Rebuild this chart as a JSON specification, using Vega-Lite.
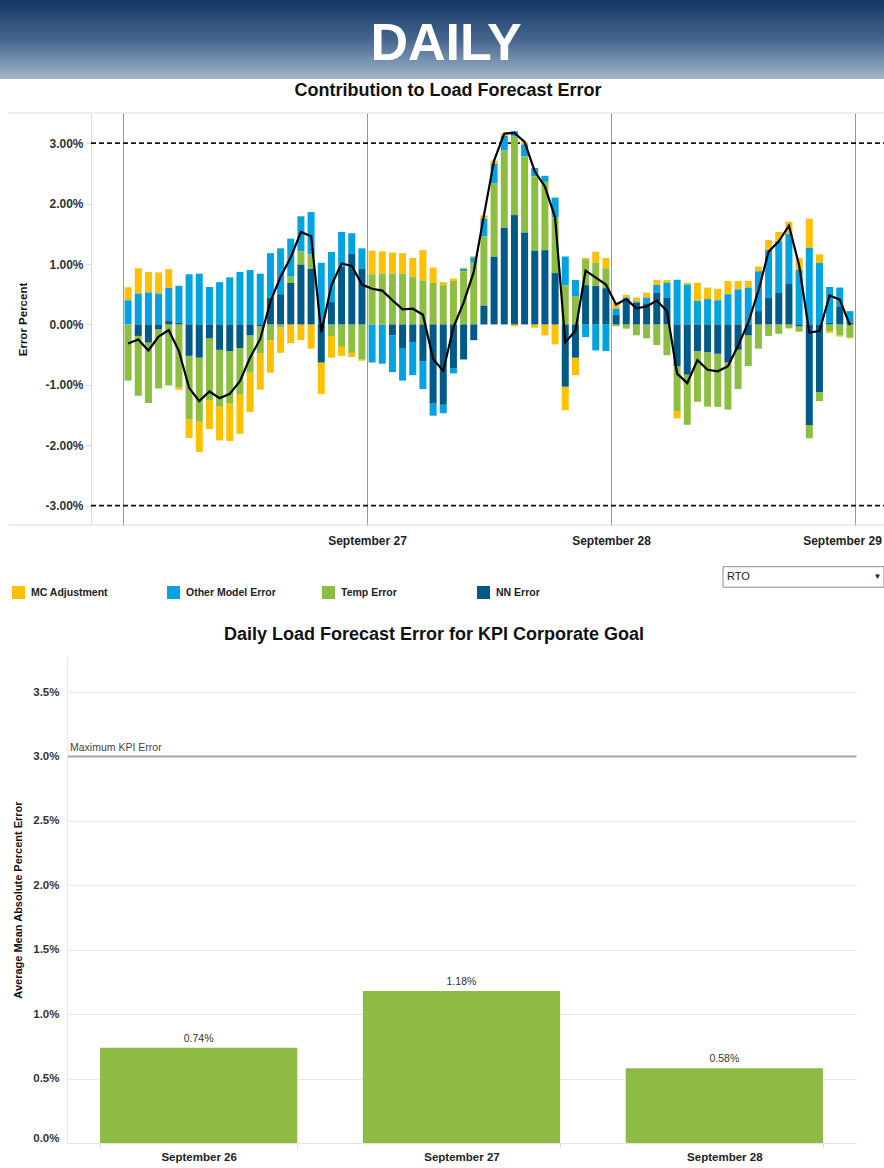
{
  "$schema": "https://vega.github.io/schema/vega-lite/v6.json",
  "background": "white",
  "padding": 0,
  "autosize": {"type": "pad"},
  "spacing": 2,
  "config": {
    "font": "Liberation Sans",
    "view": {"stroke": null},
    "locale": {"number": {"decimal": ".", "thousands": ",", "grouping": [3], "currency": ["$", ""], "minus": "-"}}
  },
  "datasets": {
    "parts": [
      {"key": "nn", "name": "NN Error", "rank": 1},
      {"key": "temp", "name": "Temp Error", "rank": 2},
      {"key": "other", "name": "Other Model Error", "rank": 3},
      {"key": "mc", "name": "MC Adjustment", "rank": 4}
    ],
    "hours": [
      {"t":0.5,"mc":0.00215,"other":0.0040,"temp":-0.0093,"nn":0},
      {"t":1.5,"mc":0.0042,"other":0.0051,"temp":-0.0099,"nn":-0.0019},
      {"t":2.5,"mc":0.0034,"other":0.0053,"temp":-0.0100,"nn":-0.0030},
      {"t":3.5,"mc":0.0035,"other":0.0051,"temp":-0.0098,"nn":-0.0008},
      {"t":4.5,"mc":0.0031,"other":0.0055,"temp":-0.0101,"nn":0.00055},
      {"t":5.5,"mc":-0.0004,"other":0.0061,"temp":-0.0104,"nn":0.0003},
      {"t":6.5,"mc":-0.0031,"other":0.0083,"temp":-0.0105,"nn":-0.0052},
      {"t":7.5,"mc":-0.0050,"other":0.0084,"temp":-0.0106,"nn":-0.0055},
      {"t":8.5,"mc":-0.0047,"other":0.0062,"temp":-0.0103,"nn":-0.0023},
      {"t":9.5,"mc":-0.0056,"other":0.0070,"temp":-0.0094,"nn":-0.0042},
      {"t":10.5,"mc":-0.0062,"other":0.0078,"temp":-0.0087,"nn":-0.0044},
      {"t":11.5,"mc":-0.0065,"other":0.0087,"temp":-0.0077,"nn":-0.0039},
      {"t":12.5,"mc":-0.0065,"other":0.0090,"temp":-0.0062,"nn":-0.0018},
      {"t":13.5,"mc":-0.0060,"other":0.0084,"temp":-0.0045,"nn":-0.0003},
      {"t":14.5,"mc":-0.0054,"other":0.0074,"temp":-0.0026,"nn":0.0044},
      {"t":15.5,"mc":-0.0042,"other":0.0076,"temp":-0.0005,"nn":0.0050},
      {"t":16.5,"mc":-0.0031,"other":0.0063,"temp":0.0010,"nn":0.0069},
      {"t":17.5,"mc":-0.0026,"other":0.0058,"temp":0.0022,"nn":0.0099},
      {"t":18.5,"mc":-0.0040,"other":0.0070,"temp":0.0024,"nn":0.0092},
      {"t":19.5,"mc":-0.0052,"other":0.0102,"temp":0,"nn":-0.0063},
      {"t":20.5,"mc":-0.0036,"other":0.0083,"temp":-0.0019,"nn":0.0037},
      {"t":21.5,"mc":-0.0015,"other":0.0058,"temp":-0.0037,"nn":0.0095},
      {"t":22.5,"mc":-0.0007,"other":0.0034,"temp":-0.0047,"nn":0.0117},
      {"t":23.5,"mc":-0.0002,"other":0.0034,"temp":-0.0058,"nn":0.0092},
      {"t":24.5,"mc":0.0039,"other":-0.0063,"temp":0.0083,"nn":0},
      {"t":25.5,"mc":0.0037,"other":-0.0065,"temp":0.0084,"nn":0},
      {"t":26.5,"mc":0.0035,"other":-0.0061,"temp":0.0084,"nn":-0.0018},
      {"t":27.5,"mc":0.0034,"other":-0.0054,"temp":0.0084,"nn":-0.0039},
      {"t":28.5,"mc":0.0031,"other":-0.0055,"temp":0.0079,"nn":-0.0029},
      {"t":29.5,"mc":0.0050,"other":-0.0046,"temp":0.0073,"nn":-0.0061},
      {"t":30.5,"mc":0.0025,"other":-0.0020,"temp":0.0069,"nn":-0.0131},
      {"t":31.5,"mc":0.0005,"other":-0.0014,"temp":0.0065,"nn":-0.0133},
      {"t":32.5,"mc":0.0004,"other":-0.0008,"temp":0.0072,"nn":-0.0073},
      {"t":33.5,"mc":0.0002,"other":0.0004,"temp":0.0088,"nn":-0.0058},
      {"t":34.5,"mc":0.0002,"other":0.0009,"temp":0.0102,"nn":-0.0026},
      {"t":35.5,"mc":0.00055,"other":0.0029,"temp":0.0115,"nn":0.0031},
      {"t":36.5,"mc":0.00055,"other":0.0032,"temp":0.0122,"nn":0.0112},
      {"t":37.5,"mc":0.0004,"other":0.0024,"temp":0.0128,"nn":0.0160},
      {"t":38.5,"mc":-0.0003,"other":0.0008,"temp":0.0131,"nn":0.0181},
      {"t":39.5,"mc":0.0004,"other":0.0020,"temp":0.0126,"nn":0.0152},
      {"t":40.5,"mc":-0.00055,"other":0.0014,"temp":0.0123,"nn":0.0122},
      {"t":41.5,"mc":-0.0018,"other":0.0010,"temp":0.0113,"nn":0.0123},
      {"t":42.5,"mc":-0.0033,"other":0.0033,"temp":0.0092,"nn":0.0085},
      {"t":43.5,"mc":-0.0039,"other":0.00475,"temp":0.0065,"nn":-0.0103},
      {"t":44.5,"mc":-0.0029,"other":0.00265,"temp":0.0047,"nn":-0.0055},
      {"t":45.5,"mc":0.0002,"other":-0.0021,"temp":0.0043,"nn":0.0065},
      {"t":46.5,"mc":0.0018,"other":-0.0043,"temp":0.0039,"nn":0.00635},
      {"t":47.5,"mc":0.0017,"other":-0.0044,"temp":0.0033,"nn":0.0060},
      {"t":48.5,"mc":0.0010,"other":0.00105,"temp":-0.0003,"nn":0.00155},
      {"t":49.5,"mc":0.00045,"other":0.00055,"temp":-0.0007,"nn":0.0039},
      {"t":50.5,"mc":0.00066,"other":0.0002,"temp":-0.0018,"nn":0.0036},
      {"t":51.5,"mc":0.00083,"other":0.00094,"temp":-0.0023,"nn":0.0035},
      {"t":52.5,"mc":0.00083,"other":0.00127,"temp":-0.0034,"nn":0.00525},
      {"t":53.5,"mc":0.00044,"other":0.0025,"temp":-0.0051,"nn":0.0044},
      {"t":54.5,"mc":-0.0012,"other":0.0074,"temp":-0.00745,"nn":-0.0069},
      {"t":55.5,"mc":0.0003,"other":0.0066,"temp":-0.0083,"nn":-0.0083},
      {"t":56.5,"mc":0.0030,"other":0.0039,"temp":-0.0084,"nn":-0.0044},
      {"t":57.5,"mc":0.0019,"other":0.0042,"temp":-0.0090,"nn":-0.0046},
      {"t":58.5,"mc":0.0019,"other":0.0040,"temp":-0.0088,"nn":-0.00485},
      {"t":59.5,"mc":0.0022,"other":0.0050,"temp":-0.0078,"nn":-0.0063},
      {"t":60.5,"mc":0.0014,"other":0.0058,"temp":-0.0065,"nn":-0.0042},
      {"t":61.5,"mc":0.0011,"other":0.0061,"temp":-0.0051,"nn":-0.0018},
      {"t":62.5,"mc":0.0008,"other":0.0066,"temp":-0.0040,"nn":0.0022},
      {"t":63.5,"mc":0.00165,"other":0.0079,"temp":-0.0019,"nn":0.0044},
      {"t":64.5,"mc":0.00155,"other":0.00855,"temp":-0.00155,"nn":0.0052},
      {"t":65.5,"mc":0.0020,"other":0.0083,"temp":-0.00066,"nn":0.0067},
      {"t":66.5,"mc":0.0020,"other":0.0090,"temp":-0.0009,"nn":-0.0003},
      {"t":67.5,"mc":0.0048,"other":0.0127,"temp":-0.0022,"nn":-0.01665},
      {"t":68.5,"mc":0.0014,"other":0.0102,"temp":-0.0015,"nn":-0.0112},
      {"t":69.5,"mc":-0.0003,"other":0.0059,"temp":-0.0011,"nn":0.0003},
      {"t":70.5,"mc":-0.0002,"other":0.0031,"temp":-0.0018,"nn":0.0030},
      {"t":71.5,"mc":-0.0002,"other":0.0019,"temp":-0.0021,"nn":0.0003}
    ]
  },
  "vconcat": [
    {
      "width": 884,
      "height": 79,
      "view": {
        "stroke": null,
        "fill": {
          "gradient": "linear", "x1": 0, "y1": 0, "x2": 0, "y2": 1,
          "stops": [
            {"offset": 0, "color": "#133662"},
            {"offset": 0.5, "color": "#45668f"},
            {"offset": 1, "color": "#a3b5cb"}
          ]
        }
      },
      "data": {"values": [{"label": "DAILY"}]},
      "mark": {"type": "text", "fontSize": 52, "fontWeight": "bold", "color": "#ffffff", "dx": 4, "dy": 4},
      "encoding": {"text": {"field": "label"}}
    },
    {
      "spacing": 38,
      "vconcat": [
        {
          "width": 884,
          "height": 412,
          "title": {"text": "Contribution to Load Forecast Error", "fontSize": 18, "fontWeight": "bold", "color": "#111111", "offset": 13, "dx": 6, "anchor": "middle"},
          "view": {"stroke": null},
          "resolve": {"axis": {"x": "independent", "y": "independent"}},
          "layer": [
            {
              "data": {"values": [{"edge": 0.035}, {"edge": -0.0332}]},
              "mark": {"type": "rule", "color": "#dddddd", "strokeWidth": 1},
              "encoding": {
                "y": {"field": "edge", "type": "quantitative", "scale": {"domain": [-0.0332, 0.035], "nice": false, "zero": false}, "axis": null},
                "x": {"datum": -11.3, "type": "quantitative", "scale": {"domain": [-12.098, 74.85], "nice": false, "zero": false, "padding": 0}, "axis": null},
                "x2": {"datum": 74.85}
              }
            },
            {
              "data": {"values": [{"limit": 0.03}, {"limit": -0.03}]},
              "mark": {"type": "rule", "color": "#111111", "strokeWidth": 1.8, "strokeDash": [5, 3]},
              "encoding": {
                "y": {"field": "limit", "type": "quantitative", "scale": {"domain": [-0.0332, 0.035], "nice": false, "zero": false}, "axis": null},
                "x": {"datum": -3.148, "type": "quantitative", "scale": {"domain": [-12.098, 74.85], "nice": false, "zero": false, "padding": 0}, "axis": null},
                "x2": {"datum": 74.85}
              }
            },
            {
              "data": {"name": "hours"},
              "transform": [
                {"fold": ["mc", "other", "temp", "nn"], "as": ["key", "v"]},
                {"lookup": "key", "from": {"data": {"name": "parts"}, "key": "key", "fields": ["name", "rank"]}}
              ],
              "mark": {"type": "bar", "width": 7},
              "encoding": {
                "x": {
                  "field": "t", "type": "quantitative",
                  "scale": {"domain": [-12.098, 74.85], "nice": false, "zero": false, "padding": 0},
                  "axis": {
                    "title": null, "orient": "bottom", "values": [0, 24, 48, 72],
                    "labelExpr": "datum.value == 24 ? 'September 27' : datum.value == 48 ? 'September 28' : datum.value == 72 ? 'September 29' : ''",
                    "grid": true, "gridColor": "#999999", "gridWidth": 1,
                    "domain": false, "ticks": false,
                    "labelFontSize": 12, "labelFontWeight": "bold", "labelColor": "#222222",
                    "labelOffset": {"condition": {"test": "datum.value == 72", "value": -13}, "value": 0},
                    "labelPadding": 10, "labelFlush": false, "labelOverlap": false, "labelBound": false
                  }
                },
                "y": {
                  "field": "v", "type": "quantitative", "stack": "zero",
                  "scale": {"domain": [-0.0332, 0.035], "nice": false, "zero": false},
                  "axis": {
                    "title": "Error Percent", "values": [-0.03, -0.02, -0.01, 0, 0.01, 0.02, 0.03],
                    "format": ".2%", "orient": "left", "offset": -91, "grid": false,
                    "domainColor": "#dddddd", "tickColor": "#dddddd", "tickSize": 5,
                    "labelPadding": 3, "labelFontSize": 12, "labelFontWeight": "bold", "labelColor": "#333333",
                    "titleFontSize": 11.5, "titleFontWeight": "bold", "titleColor": "#111111", "titlePadding": 16
                  }
                },
                "color": {
                  "field": "name", "type": "nominal",
                  "scale": {
                    "domain": ["MC Adjustment", "Other Model Error", "Temp Error", "NN Error"],
                    "range": ["#FFC000", "#00A3E0", "#8CBE41", "#005A87"]
                  },
                  "legend": {
                    "title": null, "orient": "none", "legendX": 12, "legendY": 586,
                    "direction": "horizontal", "columns": 4, "gridAlign": "all", "columnPadding": 46,
                    "padding": 0, "symbolType": "square", "symbolSize": 169, "symbolStrokeWidth": 0,
                    "labelFontSize": 10.5, "labelFontWeight": "bold", "labelColor": "#222222",
                    "labelOffset": 6, "labelLimit": 200
                  }
                },
                "order": {"field": "rank", "type": "quantitative"}
              }
            },
            {
              "data": {"name": "hours"},
              "transform": [
                {"fold": ["mc", "other", "temp", "nn"], "as": ["key", "v"]},
                {"aggregate": [{"op": "sum", "field": "v", "as": "total"}], "groupby": ["t"]}
              ],
              "mark": {"type": "line", "color": "#000000", "strokeWidth": 2.2},
              "encoding": {
                "x": {"field": "t", "type": "quantitative", "scale": {"domain": [-12.098, 74.85], "nice": false, "zero": false, "padding": 0}, "axis": null},
                "y": {"field": "total", "type": "quantitative", "scale": {"domain": [-0.0332, 0.035], "nice": false, "zero": false}, "axis": null}
              }
            },
            {
              "data": {"values": [{"region": "RTO"}]},
              "mark": {"type": "rect", "fill": "#ffffff", "stroke": "#8c8c8c", "strokeWidth": 1},
              "encoding": {
                "x": {"datum": 59.02, "type": "quantitative", "axis": null},
                "x2": {"datum": 74.85},
                "y": {"datum": -0.0401, "type": "quantitative", "axis": null},
                "y2": {"datum": -0.0435}
              }
            },
            {
              "data": {"values": [{"region": "RTO"}]},
              "mark": {"type": "text", "align": "left", "baseline": "middle", "fontSize": 11, "color": "#222222", "dx": 4},
              "encoding": {
                "x": {"datum": 59.02, "type": "quantitative", "axis": null},
                "y": {"datum": -0.0418, "type": "quantitative", "axis": null},
                "text": {"field": "region"}
              }
            },
            {
              "data": {"values": [{"arrow": "▼"}]},
              "mark": {"type": "text", "align": "center", "baseline": "middle", "fontSize": 8, "color": "#222222"},
              "encoding": {
                "x": {"datum": 74.2, "type": "quantitative", "axis": null},
                "y": {"datum": -0.0418, "type": "quantitative", "axis": null},
                "text": {"field": "arrow"}
              }
            }
          ]
        },
        {
          "width": 856,
          "height": 487,
          "title": {"text": "Daily Load Forecast Error for KPI Corporate Goal", "fontSize": 18, "fontWeight": "bold", "color": "#111111", "offset": 12, "dx": 6, "anchor": "middle"},
          "view": {"stroke": null},
          "resolve": {"axis": {"x": "independent", "y": "independent"}},
          "data": {"values": [
            {"day": "September 26", "mape": 0.0074},
            {"day": "September 27", "mape": 0.0118},
            {"day": "September 28", "mape": 0.0058}
          ]},
          "layer": [
            {
              "mark": {"type": "bar", "color": "#8DBB43"},
              "encoding": {
                "x": {
                  "field": "day", "type": "nominal", "sort": null,
                  "scale": {"range": [67, 856], "paddingInner": 0.2495, "paddingOuter": 0.1257},
                  "axis": {
                    "title": null, "orient": "bottom", "labelAngle": 0, "labelFontSize": 11.5, "labelFontWeight": "bold", "labelColor": "#222222",
                    "labelPadding": 3, "domainColor": "#e3e3e3", "ticks": true, "tickBand": "extent",
                    "tickColor": "#dddddd", "tickSize": 5, "grid": false
                  }
                },
                "y": {
                  "field": "mape", "type": "quantitative",
                  "scale": {"domain": [0, 0.0378], "nice": false, "zero": true},
                  "axis": {
                    "title": "Average Mean Absolute Percent Error", "orient": "left", "offset": -67,
                    "values": [0, 0.005, 0.01, 0.015, 0.02, 0.025, 0.03, 0.035], "format": ".1%",
                    "grid": true, "gridColor": "#e8e8e8", "domainColor": "#e8e8e8", "ticks": false,
                    "labelPadding": 8, "labelFontSize": 11.5, "labelFontWeight": "bold", "labelColor": "#333333",
                    "labelFlush": true,
                    "titleFontSize": 11, "titleFontWeight": "bold", "titleColor": "#111111", "titlePadding": 9
                  }
                }
              }
            },
            {
              "mark": {"type": "text", "baseline": "bottom", "dy": -4, "fontSize": 10.5, "color": "#333333"},
              "encoding": {
                "x": {"field": "day", "type": "nominal", "sort": null, "axis": null},
                "y": {"field": "mape", "type": "quantitative", "axis": null},
                "text": {"field": "mape", "type": "quantitative", "format": ".2%"}
              }
            },
            {
              "data": {"values": [{"kpi": 0.03, "label": "Maximum KPI Error"}]},
              "mark": {"type": "text", "align": "left", "baseline": "bottom", "dx": -30, "dy": -3, "fontSize": 10.5, "color": "#444444"},
              "encoding": {
                "x": {"datum": "September 26", "bandPosition": 0, "axis": null},
                "y": {
                  "field": "kpi", "type": "quantitative",
                  "axis": {
                    "orient": "left", "offset": -67, "values": [0.03], "grid": true, "gridColor": "#a6a6a6", "gridWidth": 2,
                    "labels": false, "ticks": false, "domain": false, "title": null
                  }
                },
                "text": {"field": "label"}
              }
            }
          ]
        }
      ]
    }
  ]
}
